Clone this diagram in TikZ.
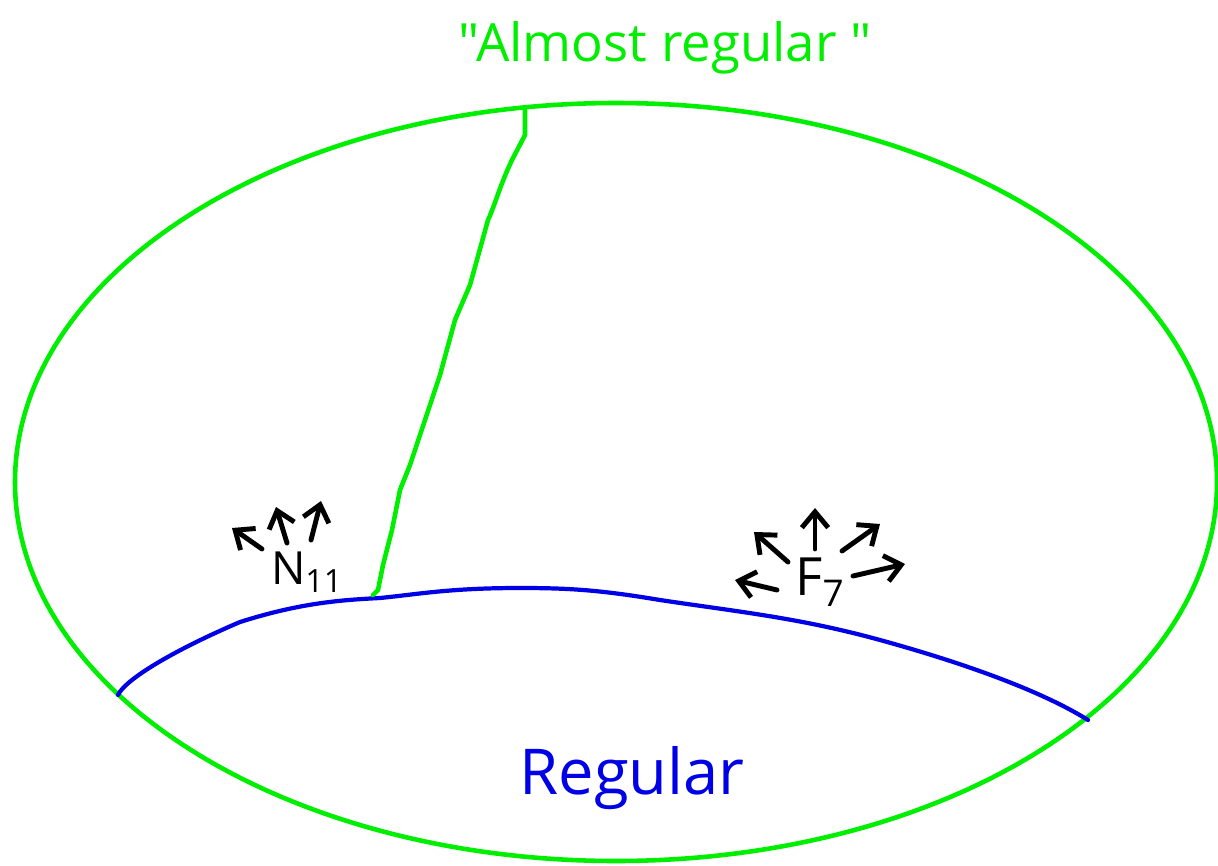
\documentclass[tikz,border=0pt]{standalone}
\usepackage{fontspec}
\newfontfamily\handfont{Open Sans}
\usetikzlibrary{arrows.meta}
\definecolor{hgreen}{RGB}{0,238,0}
\definecolor{hblue}{RGB}{0,0,230}
\tikzset{
  greenpen/.style={draw=hgreen,line width=2.6pt,line cap=round,line join=round},
  bluepen/.style={draw=hblue,line width=2.4pt,line cap=round,line join=round},
  outarrow/.style={draw=black,line width=2.8pt,line cap=round,-{Straight Barb[length=9pt,width=15pt,line width=2.8pt]}},
  lbl/.style={inner sep=0pt,font=\handfont\fontsize{30}{30}\selectfont}
}
\begin{document}
\begin{tikzpicture}[x={(0.02cm,0)},y={(0,-0.02cm)}]
\useasboundingbox (0,0) rectangle (1218,866);
% outer ellipse
\draw[greenpen] (616,482) ellipse [x radius=601, y radius=379];
% blue boundary curve
\coordinate (bl) at (118,695);
\coordinate (br) at (1088,720);
\draw[bluepen] (bl) .. controls (125,680) and (170,652) .. (240,622)
  .. controls (300,603) and (340,600) .. (380,598)
  .. controls (420,594) and (450,588) .. (520,588)
  .. controls (570,588) and (600,590) .. (660,600)
  .. controls (740,612) and (800,618) .. (880,640)
  .. controls (960,662) and (1040,690) .. (br);
% green line
\coordinate (gt) at (525,110);
\coordinate (gb) at (373,595);
\draw[greenpen] (gt) -- (525,135) -- (512,160) .. controls (500,185) and (495,205) .. (488,220)
  -- (470,285) -- (455,320) -- (440,375) -- (425,420) -- (410,465) -- (400,490) -- (392,530) -- (383,565) -- (378,590) -- (gb);
% labels
\node[lbl,text=hgreen] (almost) at (665,48) {"Almost regular "};
\node[lbl,text=hblue,font=\handfont\fontsize{36}{36}\selectfont] (regular) at (632,778) {Regular};
\node[lbl,font=\handfont\fontsize{26}{26}\selectfont] (n11) at (307,572) {N\textsubscript{11}};
\node[lbl] (f7) at (820,582) {F\textsubscript{7}};
% arrows around N11
\coordinate (na1) at (232,528);
\coordinate (na2) at (276,507);
\coordinate (na3) at (321,501);
\draw[outarrow] (262,549) -- (na1);
\draw[outarrow] (287,543) -- (na2);
\draw[outarrow] (311,540) -- (na3);
% arrows around F7
\coordinate (fa1) at (735,580);
\coordinate (fa2) at (754,532);
\coordinate (fa3) at (815,508);
\coordinate (fa4) at (880,524);
\coordinate (fa5) at (905,564);
\draw[outarrow] (777,590) -- (fa1);
\draw[outarrow] (788,562) -- (fa2);
\draw[outarrow] (815,549) -- (fa3);
\draw[outarrow] (842,551) -- (fa4);
\draw[outarrow] (853,576) -- (fa5);
\end{tikzpicture}
\end{document}
